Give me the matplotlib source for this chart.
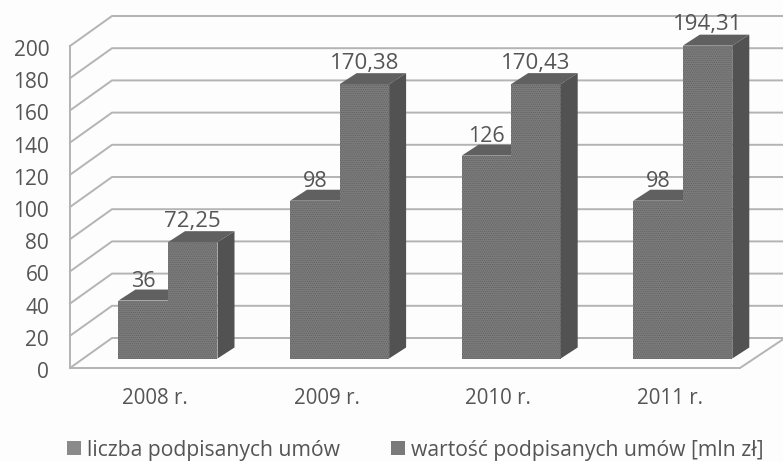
import matplotlib
matplotlib.use("Agg")
import matplotlib.pyplot as plt
from matplotlib.patches import Polygon, Patch
from matplotlib.transforms import ScaledTranslation
import numpy as np

years = ["2008 r.", "2009 r.", "2010 r.", "2011 r."]
liczba = [36, 98, 126, 98]
wartosc = [72.25, 170.38, 170.43, 194.31]
liczba_labels = ["36", "98", "126", "98"]
wartosc_labels = ["72,25", "170,38", "170,43", "194,31"]
grid_values = list(range(0, 201, 20))
series_names = ["liczba podpisanych umów", "wartość podpisanych umów [mln zł]"]

W, H = 783, 461
PX_X = 171.6      # pixels per category
PX_Y = 1.61       # pixels per value unit
Y0 = -5.9
plt.rcParams["hatch.linewidth"] = 0.5
fig = plt.figure(figsize=(W/100, H/100), dpi=100, facecolor="#fdfdfd")
ax = fig.add_axes([70/W, (H-368)/H, (W-70)/W, 368/H])
ax.set_facecolor("none")
ax.set_xlim((70-168)/PX_X, (W-168)/PX_X)
ax.set_ylim(Y0, Y0 + 368/PX_Y)

font = "Open Sans"
txt = "#555555"
grid_c = "#b4b4b4"
front_c, top_c, side_c = "#7c7c7c", "#606060", "#525252"
hatch_c = "#5e5e5e"

# walls
fx = (70-168)/PX_X
bx = (112-168)/PX_X
rx = (W+2-168)/PX_X
fl = (740-168)/PX_X
wall_dy = 30/PX_Y
for v in grid_values:
    yf = v + Y0
    yb = yf + wall_dy
    ax.plot([fx, bx, rx], [yf, yb, yb], color=grid_c, lw=1.4, zorder=1, clip_on=False)
ax.plot([fl, rx], [Y0, Y0+wall_dy], color=grid_c, lw=1.4, zorder=1)

# bars
bw = 49.5/PX_X
dx, dy = 17/PX_X, 11/PX_Y
x = np.arange(len(years))
for off, vals in ((-bw, liczba), (0, wartosc)):
    z = 3 + (off == 0)
    ax.bar(x + off, vals, width=bw, align="edge", facecolor=front_c, edgecolor=hatch_c,
           hatch="........", linewidth=0, zorder=z)
    for xi, v in zip(x + off, vals):
        ax.add_patch(Polygon([(xi, v), (xi+dx, v+dy), (xi+bw+dx, v+dy), (xi+bw, v)],
                             facecolor=top_c, lw=0, zorder=z))
        if off == 0:
            ax.add_patch(Polygon([(xi+bw, 0), (xi+bw+dx, dy), (xi+bw+dx, v+dy), (xi+bw, v)],
                                 facecolor=side_c, lw=0, zorder=z))

# value labels
for xi, v, s in zip(x, liczba, liczba_labels):
    ax.annotate(s, (xi - bw/2, v), xytext=(0, 13.5), textcoords="offset points", ha="center",
                va="center", fontsize=15.5, family=font, color=txt, zorder=5)
for xi, v, s in zip(x, wartosc, wartosc_labels):
    ax.annotate(s, (xi + bw/2, v), xytext=(0, 15), textcoords="offset points", ha="center",
                va="center", fontsize=16, family=font, color=txt, zorder=5, annotation_clip=False)

# axes
for s in ("top", "right"):
    ax.spines[s].set_visible(False)
ax.spines["left"].set_color(grid_c); ax.spines["left"].set_linewidth(1.4)
ax.spines["left"].set_bounds(Y0, 200 + Y0)
ax.spines["bottom"].set_color(grid_c); ax.spines["bottom"].set_linewidth(1.4)
ax.spines["bottom"].set_bounds(fx, fl)
ax.set_yticks([v + Y0 for v in grid_values], [str(v) for v in grid_values])
ax.set_xticks(x - 13/PX_X, years)
ax.tick_params(axis="y", length=0, pad=15, labelsize=15, labelcolor=txt)
ax.tick_params(axis="x", length=0, pad=14.5, labelsize=14.8, labelcolor=txt)
shift = ScaledTranslation(0, -2/100, fig.dpi_scale_trans)
for t in ax.get_yticklabels():
    t.set_family(font)
    t.set_transform(t.get_transform() + shift)
for t in ax.get_xticklabels():
    t.set_family(font)

fig.legend(handles=[Patch(facecolor="#8a8a8a", label=series_names[0]), Patch(facecolor="#7a7a7a", label=series_names[1])],
           loc="lower left", bbox_to_anchor=(67/W, 0.5/H), ncol=2, frameon=False,
           prop={"family": font, "size": 15.2}, labelcolor=txt, handlelength=0.67, handleheight=0.67,
           handletextpad=0.29, columnspacing=2.4, borderpad=0, borderaxespad=0)
fig.savefig("out.png", dpi=100, facecolor=fig.get_facecolor())
